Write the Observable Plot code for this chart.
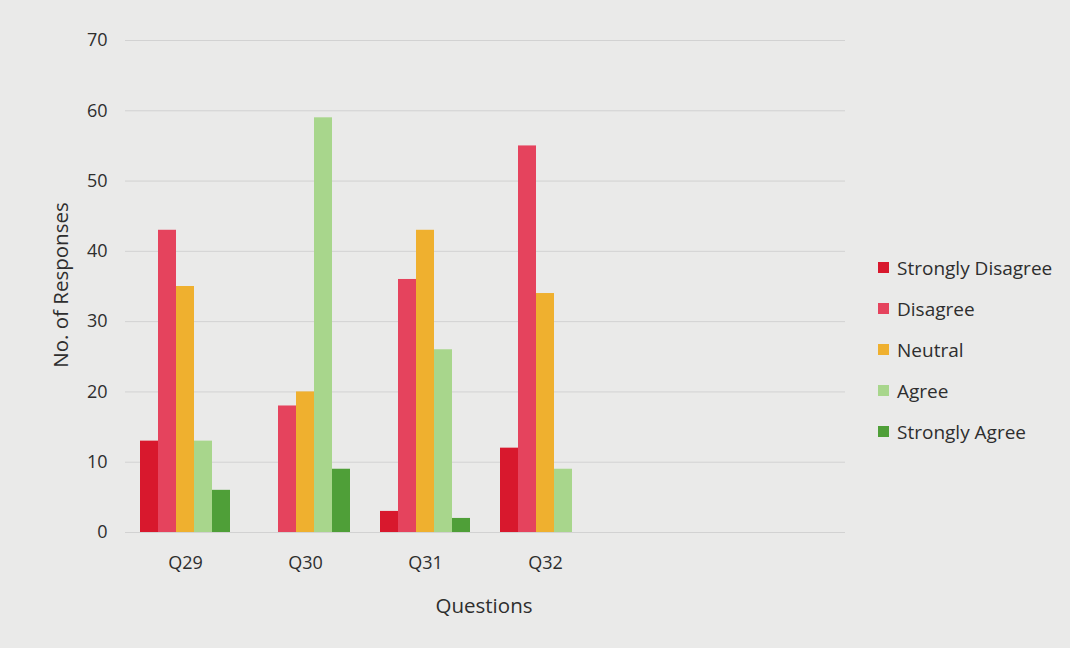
<!DOCTYPE html>
<html>
<head>
<meta charset="utf-8">
<script src="https://cdn.jsdelivr.net/npm/d3@7"></script>
<script src="https://cdn.jsdelivr.net/npm/@observablehq/plot@0.6"></script>
<style>
  html, body { margin: 0; padding: 0; background: #eaeae9; }
  #wrap { position: relative; width: 1070px; height: 648px; font-family: "Open Sans", sans-serif; color: #2e2e2e; }
  #legend { position: absolute; left: 878px; top: 247px; }
  .item { display: flex; align-items: center; height: 41px; font-size: 19px; }
  .sw { width: 11px; height: 11px; margin-right: 8px; }
  .title { position: absolute; font-size: 20.5px; white-space: nowrap; }
  #xtitle { left: 484px; top: 605px; transform: translate(-50%, -50%); }
  #ytitle { left: 60px; top: 285px; transform: translate(-50%, -50%) rotate(-90deg); }
</style>
</head>
<body>
<div id="wrap">
  <div id="chart"></div>
  <div id="legend"></div>
  <div class="title" id="ytitle">No. of Responses</div>
  <div class="title" id="xtitle">Questions</div>
</div>
<script>
// Categories (the original category axis has two trailing empty slots)
const categories = ["Q29", "Q30", "Q31", "Q32"];
const emptySlots = [" ", "  "];
const responses = ["Strongly Disagree", "Disagree", "Neutral", "Agree", "Strongly Agree"];
const stronglyDisagree = [13, 0, 3, 12];
const disagree = [43, 18, 36, 55];
const neutral = [35, 20, 43, 34];
const agree = [13, 59, 26, 9];
const stronglyAgree = [6, 9, 2, 0];
const colors = ["#d8182d", "#e5435d", "#efb02f", "#a8d68c", "#4f9f38"];
const yTicks = [0, 10, 20, 30, 40, 50, 60, 70];

const series = [stronglyDisagree, disagree, neutral, agree, stronglyAgree];
const data = [];
categories.forEach((q, i) => {
  responses.forEach((r, j) => {
    if (series[j][i] > 0) data.push({question: q, response: r, value: series[j][i]});
  });
});
const slots = [...categories, ...emptySlots];
const gridRows = slots.flatMap(s => yTicks.map(t => ({slot: s, tick: t})));

const chart = Plot.plot({
  width: 1070,
  height: 648,
  marginLeft: 125,
  marginRight: 225,
  marginTop: 40,
  marginBottom: 116,
  style: {background: "transparent", fontFamily: "Open Sans, sans-serif", color: "#2e2e2e"},
  fx: {domain: slots, padding: 0, label: null},
  x: {domain: responses, paddingInner: 0, paddingOuter: 0.69, axis: null},
  y: {domain: [0, 70], label: null},
  color: {domain: responses, range: colors},
  marks: [
    Plot.ruleY(gridRows, {fx: "slot", y: "tick", stroke: "#d2d2d2", strokeWidth: 1}),
    Plot.barY(data, {fx: "question", x: "response", y: "value", fill: "response"}),
    Plot.axisY(yTicks, {tickSize: 0, tickPadding: 18, fontSize: 18, label: null}),
    Plot.axisFx({anchor: "bottom", tickSize: 0, tickPadding: 24, fontSize: 18, label: null})
  ]
});
document.getElementById("chart").appendChild(chart);

const legend = document.getElementById("legend");
responses.forEach((r, j) => {
  const d = document.createElement("div");
  d.className = "item";
  d.innerHTML = `<span class="sw" style="background:${colors[j]}"></span><span>${r}</span>`;
  legend.appendChild(d);
});
</script>
</body>
</html>
